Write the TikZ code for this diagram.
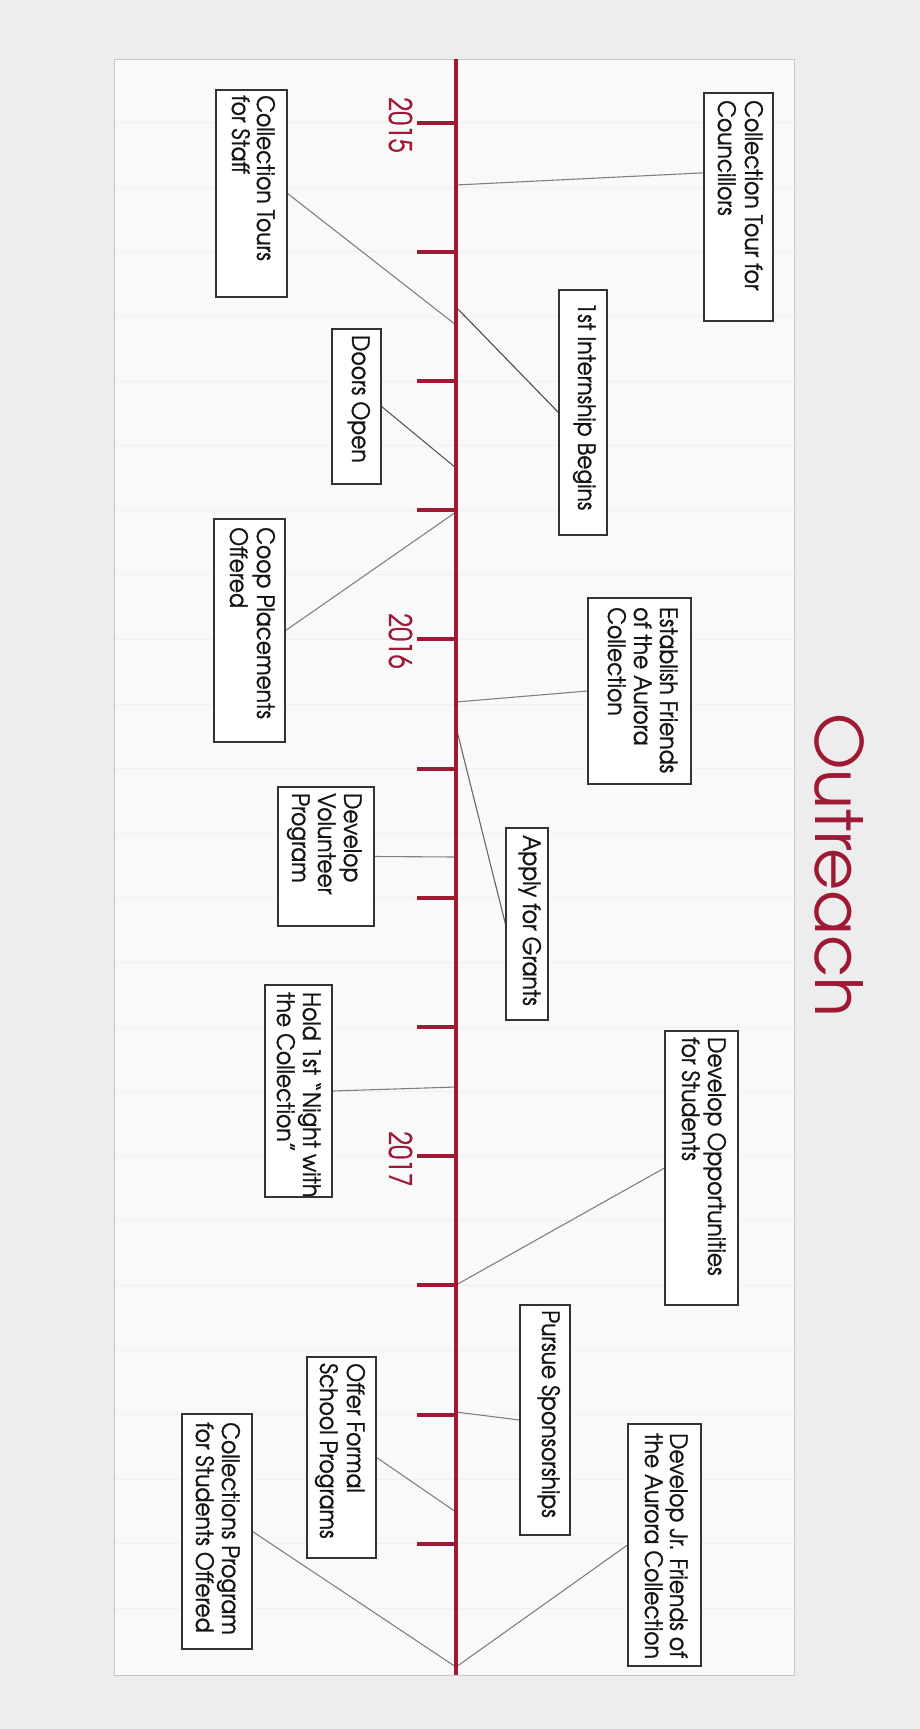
\documentclass[tikz,border=0pt]{standalone}
\usepackage{fontspec}
\usetikzlibrary{calc}
\newfontfamily\gothic{texgyreadventor-regular.otf}
\newfontfamily\gothicnarrow[FakeStretch=0.91,FakeBold=1]{texgyreadventor-regular.otf}
\newfontfamily\gothicyear[FakeStretch=0.8,FakeBold=0.6]{texgyreadventor-regular.otf}
\definecolor{tlred}{RGB}{158,26,52}
\definecolor{pagebg}{RGB}{237,237,237}
\definecolor{panelbg}{RGB}{249,249,249}

\begin{document}
\begin{tikzpicture}[x=1pt,y=-1pt,
  box/.style={draw=black!80, line width=1.2pt, fill=white, inner sep=0pt},
  lbl/.style={rotate=-90, anchor=base west, inner sep=0pt,
    font=\gothicnarrow\fontsize{24}{26}\selectfont, text=black!92},
  yearlbl/.style={rotate=-90, anchor=base, inner sep=0pt,
    font=\gothicyear\fontsize{31}{31}\selectfont, text=tlred},
  link/.style={draw=black!50, line width=1.1pt},
  tickmark/.style={draw=tlred, line width=4pt},
  axisline/.style={draw=tlred, line width=3.5pt},
  guide/.style={draw=black!6, line width=0.8pt},
]
% page and panel
\fill[pagebg] (0,0) rectangle (920,1729);
\useasboundingbox (0,0) rectangle (920,1729);
\draw[draw=black!22, line width=0.8pt, fill=panelbg] (114,59) rectangle (794,1675);
\foreach \k in {0,...,23}
  \draw[guide] (115,122.5+64.6*\k) -- (793,122.5+64.6*\k);

% title
\node[rotate=-90, anchor=base, inner sep=0pt,
  font=\gothic\fontsize{65}{65}\selectfont, text=tlred] (title) at (815,865) {Outreach};

% axis points
\coordinate (axtop) at (456,59);
\coordinate (axbot) at (456,1675);
\coordinate (p-coun) at (456,185);
\coordinate (p-staff) at (456,325);
\coordinate (p-intern) at (456,307);
\coordinate (p-doors) at (456,468);
\coordinate (p-coop) at (456,512);
\coordinate (p-estab) at (456,702);
\coordinate (p-apply) at (456,727);
\coordinate (p-volun) at (456,857);
\coordinate (p-hold) at (456,1087);
\coordinate (p-oppo) at (456,1285);
\coordinate (p-pursue) at (456,1412);
\coordinate (p-offer) at (456,1512);
\coordinate (p-end) at (456,1667);

% event boxes
\node[box, minimum width=69pt, minimum height=228pt] (coun) at (738.5,207) {};
\node[box, minimum width=71pt, minimum height=207pt] (staff) at (251.5,193.5) {};
\node[box, minimum width=48pt, minimum height=245pt] (intern) at (583,412.5) {};
\node[box, minimum width=49pt, minimum height=155pt] (doors) at (356.5,406.5) {};
\node[box, minimum width=71pt, minimum height=223pt] (coop) at (249.5,630.5) {};
\node[box, minimum width=103pt, minimum height=186pt] (estab) at (639.5,691) {};
\node[box, minimum width=96pt, minimum height=139pt] (volun) at (326,856.5) {};
\node[box, minimum width=42pt, minimum height=192pt] (apply) at (527,924) {};
\node[box, minimum width=67pt, minimum height=212pt] (hold) at (298.5,1091) {};
\node[box, minimum width=73pt, minimum height=274pt] (oppo) at (701.5,1168) {};
\node[box, minimum width=50pt, minimum height=230pt] (pursue) at (545,1420) {};
\node[box, minimum width=69pt, minimum height=201pt] (offer) at (341.5,1457.5) {};
\node[box, minimum width=70pt, minimum height=235pt] (colls) at (217,1531.5) {};
\node[box, minimum width=73pt, minimum height=242pt] (junior) at (664.5,1545) {};

% connectors
\draw[link] (p-coun) -- ($(coun.north west)!0.351!(coun.south west)$);
\draw[link] (staff.east) -- (p-staff);
\draw[link, draw=black!70] (p-intern) -- (intern.west);
\draw[link, draw=black!65] (doors.east) -- (p-doors);
\draw[link] (coop.east) -- (p-coop);
\draw[link] (p-estab) -- (estab.west);
\draw[link, draw=black!60] (p-apply) -- (apply.west);
\draw[link] (volun.east) -- (p-volun);
\draw[link] (hold.east) -- (p-hold);
\draw[link] (p-oppo) -- (oppo.west);
\draw[link] (p-pursue) -- (pursue.west);
\draw[link] (offer.east) -- (p-offer);
\draw[link] (colls.east) -- (p-end);
\draw[link] (p-end) -- (junior.west);

% redraw box outlines over connector ends
\foreach \b in {coun,staff,intern,doors,coop,estab,volun,apply,hold,oppo,pursue,offer,colls,junior}
  \draw[draw=black!80, line width=1.2pt] (\b.north west) rectangle (\b.south east);

% axis and quarter ticks
\draw[axisline] (axtop) -- (axbot);
\foreach \k in {0,...,11}
  \draw[tickmark] (417,122.5+129.2*\k) -- (456,122.5+129.2*\k);

% years
\node[yearlbl] (y2015) at (389,125) {2015};
\node[yearlbl] (y2016) at (389,641) {2016};
\node[yearlbl] (y2017) at (389,1159) {2017};

% box texts
\node[lbl] (coun-1) at (745,100) {Collection Tour for};
\node[lbl] (coun-2) at (718,100) {Councillors};
\node[lbl] (staff-1) at (257,95) {Collection Tours};
\node[lbl] (staff-2) at (232,95) {for Staff};
\node[lbl] (intern-1) at (578,302) {1st Internship Begins};
\node[lbl] (doors-1) at (352,335) {Doors Open};
\node[lbl] (coop-1) at (257,527) {Coop Placements};
\node[lbl] (coop-2) at (230,527) {Offered};
\node[lbl] (estab-1) at (660,607) {Establish Friends};
\node[lbl] (estab-2) at (634,607) {of the Aurora};
\node[lbl] (estab-3) at (608,607) {Collection};
\node[lbl] (volun-1) at (344,793) {Develop};
\node[lbl] (volun-2) at (318,793) {Volunteer};
\node[lbl] (volun-3) at (292,793) {Program};
\node[lbl] (apply-1) at (523,835) {Apply for Grants};
\node[lbl] (hold-1) at (303,992) {Hold 1st “Night with};
\node[lbl] (hold-2) at (277,992) {the Collection”};
\node[lbl] (oppo-1) at (708,1037) {Develop Opportunities};
\node[lbl] (oppo-2) at (682,1037) {for Students};
\node[lbl] (pursue-1) at (542,1310) {Pursue Sponsorships};
\node[lbl] (offer-1) at (347,1363) {Offer Formal};
\node[lbl] (offer-2) at (320,1363) {School Programs};
\node[lbl] (colls-1) at (222,1422) {Collections Program};
\node[lbl] (colls-2) at (196,1422) {for Students Offered};
\node[lbl] (junior-1) at (670,1433) {Develop Jr. Friends of};
\node[lbl] (junior-2) at (645,1433) {the Aurora Collection};
\end{tikzpicture}
\end{document}
